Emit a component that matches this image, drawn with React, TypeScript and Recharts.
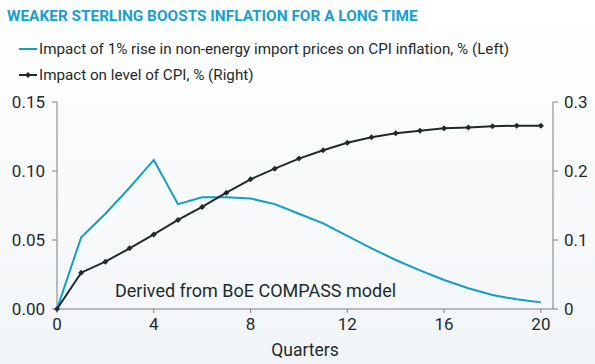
import { LineChart, Line, XAxis, YAxis } from "recharts";

// Quarters after the shock
const quarters = [0, 1, 2, 3, 4, 5, 6, 7, 8, 9, 10, 11, 12, 13, 14, 15, 16, 17, 18, 19, 20];

// Impact of 1% rise in non-energy import prices on CPI inflation, % (left axis)
const inflationImpact = [
  0, 0.052, 0.069, 0.088, 0.108, 0.076, 0.081, 0.081, 0.08, 0.076, 0.069,
  0.062, 0.053, 0.044, 0.0355, 0.028, 0.021, 0.015, 0.0101, 0.007, 0.0048,
];

// Impact on level of CPI, % (right axis)
const levelImpact = [
  0, 0.0526, 0.0686, 0.088, 0.108, 0.129, 0.148, 0.1686, 0.188, 0.2034, 0.218,
  0.23, 0.241, 0.249, 0.2546, 0.2585, 0.262, 0.263, 0.2647, 0.2657, 0.2657,
];

const xTicks = [0, 4, 8, 12, 16, 20];
const leftTicks = [0, 0.05, 0.1, 0.15];
const rightTicks = [0, 0.1, 0.2, 0.3];

const data = quarters.map((q, i) => ({
  q,
  inflation: inflationImpact[i],
  level: levelImpact[i],
}));

const CYAN = "#109dc6";
const DARK = "#1f2b2b";
const AXIS = "#7a8080";
const FONT = "Roboto, 'Liberation Sans', sans-serif";

const Diamond = (props: any) => {
  const { cx, cy } = props;
  if (cx == null || cy == null) return null;
  const r = 3;
  return (
    <polygon
      points={`${cx},${cy - r} ${cx + r},${cy} ${cx},${cy + r} ${cx - r},${cy}`}
      fill={DARK}
    />
  );
};

export default function App() {
  const tickStyle = { fill: DARK, fontSize: 17, fontFamily: FONT };
  return (
    <div
      style={{
        position: "absolute",
        left: 0,
        top: 0,
        width: 595,
        height: 364,
        background: "linear-gradient(#ffffff, #f2f5f8)",
        fontFamily: FONT,
        color: DARK,
      }}
    >
      <div
        style={{
          position: "absolute",
          left: 7,
          top: 7,
          fontSize: 15.4,
          fontWeight: 700,
          color: "#17a0d0",
        }}
      >
        WEAKER STERLING BOOSTS INFLATION FOR A LONG TIME
      </div>
      <div style={{ position: "absolute", left: 19, top: 36, fontSize: 15.2 }}>
        <div style={{ display: "flex", alignItems: "center", height: 26 }}>
          <svg width={19} height={10}>
            <line x1={0} y1={5} x2={18} y2={5} stroke={CYAN} strokeWidth={2} />
          </svg>
          <span style={{ marginLeft: 1 }}>
            Impact of 1% rise in non-energy import prices on CPI inflation, % (Left)
          </span>
        </div>
        <div style={{ display: "flex", alignItems: "center", height: 26 }}>
          <svg width={19} height={10}>
            <line x1={0} y1={5} x2={18} y2={5} stroke={DARK} strokeWidth={2} />
            <polygon points="9,2 12,5 9,8 6,5" fill={DARK} />
          </svg>
          <span style={{ marginLeft: 1 }}>Impact on level of CPI, % (Right)</span>
        </div>
      </div>
      <div
        style={{
          position: "absolute",
          left: 115,
          top: 280,
          fontSize: 18,
        }}
      >
        Derived from BoE COMPASS model
      </div>
      <LineChart
        width={595}
        height={364}
        data={data}
        margin={{ top: 102, right: 0, bottom: 0, left: 7 }}
        style={{ position: "absolute", left: 0, top: 0 }}
      >
        <XAxis
          dataKey="q"
          type="number"
          domain={[0, 20.5]}
          ticks={xTicks}
          tickSize={4}
          tickMargin={5}
          stroke={AXIS}
          tick={tickStyle}
          height={55}
          label={{
            value: "Quarters",
            position: "insideBottom",
            offset: 8,
            fill: DARK,
            fontSize: 17.5,
            fontFamily: FONT,
          }}
        />
        <YAxis
          yAxisId="left"
          domain={[0, 0.15]}
          ticks={leftTicks}
          tickFormatter={(v: number) => v.toFixed(2)}
          tickSize={5}
          tickMargin={7}
          stroke={AXIS}
          tick={tickStyle}
          width={50}
        />
        <YAxis
          yAxisId="right"
          orientation="right"
          domain={[0, 0.3]}
          ticks={rightTicks}
          tickFormatter={(v: number) => (v === 0 ? "0" : v.toFixed(1))}
          tickSize={5}
          tickMargin={6}
          stroke={AXIS}
          tick={tickStyle}
          width={42}
        />
        <Line
          yAxisId="left"
          dataKey="inflation"
          type="linear"
          stroke={CYAN}
          strokeWidth={2}
          dot={false}
          isAnimationActive={false}
        />
        <Line
          yAxisId="right"
          dataKey="level"
          type="linear"
          stroke={DARK}
          strokeWidth={2}
          dot={<Diamond />}
          isAnimationActive={false}
        />
      </LineChart>
    </div>
  );
}
